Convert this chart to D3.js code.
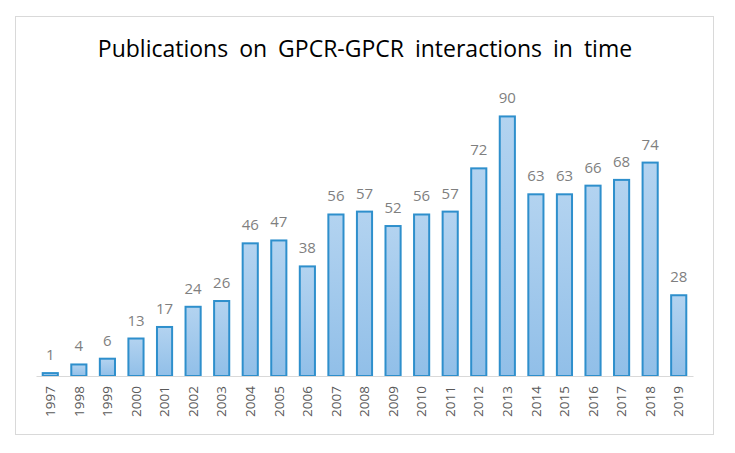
<!DOCTYPE html>
<html>
<head>
<meta charset="utf-8">
<script src="https://cdn.jsdelivr.net/npm/d3@7"></script>
<style>
  body { margin: 0; background: #fff; }
  svg { display: block; font-family: "Open Sans", sans-serif; }
</style>
</head>
<body>
<svg id="chart" width="735" height="453"></svg>
<script>
const years = ["1997","1998","1999","2000","2001","2002","2003","2004","2005","2006","2007","2008",
  "2009","2010","2011","2012","2013","2014","2015","2016","2017","2018","2019"];
const publications = [1,4,6,13,17,24,26,46,47,38,56,57,52,56,57,72,90,63,63,66,68,74,28];
const chartTitle = "Publications on GPCR-GPCR interactions in time";

const svg = d3.select('#chart');
const MARGIN = {top: 87.6, right: 42, bottom: 77, left: 36};
const WIDTH = 735, HEIGHT = 453;

// outer frame
svg.append('rect')
  .attr('x', 15.5).attr('y', 16.5)
  .attr('width', 698).attr('height', 418)
  .attr('fill', '#fff').attr('stroke', '#d9d9d9').attr('stroke-width', 1);

// gradient for bars
const grad = svg.append('defs').append('linearGradient')
  .attr('id', 'barFill').attr('x1', 0).attr('y1', 0).attr('x2', 0).attr('y2', 1);
grad.append('stop').attr('offset', '0%').attr('stop-color', '#b3d3f0');
grad.append('stop').attr('offset', '100%').attr('stop-color', '#91bfe8');

const xScale = d3.scaleBand()
  .domain(years)
  .range([MARGIN.left, WIDTH - MARGIN.right])
  .paddingInner(0.47).paddingOuter(0.235);

const yScale = d3.scaleLinear()
  .domain([0, 100])
  .range([HEIGHT - MARGIN.bottom, MARGIN.top]);

// title
svg.append('text')
  .attr('x', 365).attr('y', 57)
  .attr('text-anchor', 'middle')
  .attr('font-size', 23)
  .attr('fill', '#000')
  .attr('word-spacing', 5)
  .text(chartTitle);

// bars
svg.append('g')
  .selectAll('rect')
  .data(publications)
  .join('rect')
  .attr('x', (d, i) => xScale(years[i]))
  .attr('y', d => yScale(d))
  .attr('width', xScale.bandwidth())
  .attr('height', d => yScale(0) - yScale(d))
  .attr('fill', 'url(#barFill)')
  .attr('stroke', '#2e8fcc')
  .attr('stroke-width', 2);

// value labels
svg.append('g')
  .selectAll('text')
  .data(publications)
  .join('text')
  .attr('x', (d, i) => xScale(years[i]) + xScale.bandwidth() / 2)
  .attr('y', d => yScale(d) - 13)
  .attr('text-anchor', 'middle')
  .attr('font-size', 15)
  .attr('fill', '#7f7f7f')
  .text(d => d);

// x axis
const xAxis = d3.axisBottom(xScale).tickSize(0).tickPadding(0);
const gx = svg.append('g')
  .attr('transform', `translate(0, ${yScale(0)})`)
  .call(xAxis);
gx.select('.domain').attr('stroke', '#d9d9d9').attr('stroke-width', 1.2);
gx.selectAll('.tick text')
  .attr('transform', 'rotate(-90)')
  .attr('text-anchor', 'end')
  .attr('x', -10)
  .attr('y', 0)
  .attr('dy', '0.35em')
  .attr('font-size', 13.5)
  .attr('font-family', '"Open Sans", sans-serif')
  .attr('fill', '#595959');
</script>
</body>
</html>
